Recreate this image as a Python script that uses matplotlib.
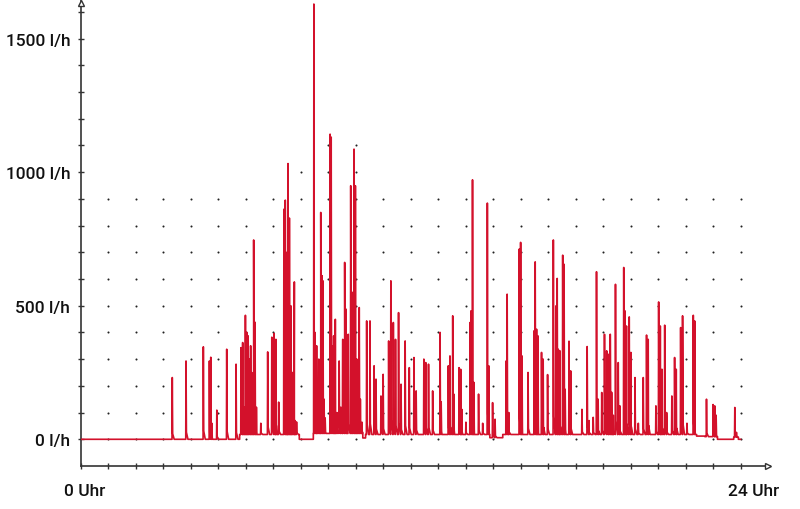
import numpy as np
import matplotlib
matplotlib.use('Agg')
import matplotlib.pyplot as plt
from matplotlib.transforms import ScaledTranslation

# flow peaks (hour of day, l/h)
spike_hours = [
    3.33, 3.83, 4.46, 4.68, 4.73, 4.77, 4.95,
    5.31, 5.65, 5.83, 5.89, 5.94, 5.99, 6.04, 6.09, 6.13, 6.18,
    6.22, 6.29, 6.34, 6.39, 6.55, 6.80, 6.95, 7.03, 7.07, 7.10, 7.20,
    7.39, 7.44, 7.47, 7.50, 7.54, 7.59, 7.62, 7.65, 7.70, 7.73, 7.77, 7.85,
    8.48, 8.52, 8.58, 8.62, 8.66, 8.73, 8.78, 8.81, 8.85, 8.89,
    9.07, 9.11, 9.15, 9.20, 9.26, 9.32, 9.40, 9.46, 9.53, 9.60, 9.65, 9.73,
    9.82, 9.86, 9.89, 9.94, 9.99, 10.04, 10.08, 10.13, 10.17, 10.23,
    10.40, 10.52, 10.67, 10.74, 10.92, 11.00, 11.20, 11.28, 11.37, 11.45,
    11.56, 11.65, 11.80, 11.95, 12.12, 12.20, 12.48, 12.55, 12.65, 12.80,
    13.07, 13.11, 13.37, 13.43, 13.53, 13.57, 13.76, 13.82, 13.86, 14.01,
    14.16, 14.20, 14.25, 14.30, 14.47, 14.62, 14.79, 14.84, 14.98, 15.07,
    15.47, 15.51, 15.57, 15.95, 16.00, 16.05, 16.27, 16.49, 16.53, 16.58,
    16.63, 16.76, 16.82, 16.98, 17.19, 17.28, 17.33, 17.37, 17.43, 17.53,
    17.58, 17.62, 17.76, 17.82, 18.23, 18.42, 18.49, 18.64, 18.76, 18.82,
    18.95, 19.05, 19.13, 19.19, 19.26, 19.31, 19.37, 19.45, 19.55, 19.61,
    19.75, 19.79, 19.85, 19.95, 20.01, 20.16, 20.28, 20.46, 20.58, 20.64,
    20.92, 21.02, 21.08, 21.14, 21.24, 21.31, 21.50, 21.60, 21.66, 21.82,
    21.89, 22.05, 22.28, 22.33, 22.76, 23.00, 23.06, 23.11, 23.79, 23.85,
]
spike_flow = [
    231, 293, 346, 293, 307, 60, 109,
    337, 281, 343, 362, 120, 464, 400, 387, 300, 350,
    250, 746, 438, 120, 60, 327, 382, 396, 200, 374, 139,
    861, 895, 600, 700, 1032, 828, 350, 499, 250, 150, 589, 65,
    1629, 400, 350, 200, 300, 849, 612, 593, 150, 80,
    1142, 1131, 350, 387, 449, 100, 293, 120, 374, 662, 487, 393,
    949, 400, 550, 1086, 949, 300, 200, 493, 150, 64,
    443, 443, 275, 225, 162, 243, 368, 593, 437, 374,
    474, 206, 368, 268, 306, 181, 300, 287, 281, 181,
    400, 140, 275, 312, 462, 169, 268, 262, 112, 64,
    437, 481, 971, 213, 169, 60, 884, 275, 137, 75,
    293, 543, 100, 712, 737, 312, 250, 406, 664, 412,
    387, 325, 300, 242, 746, 499, 602, 337, 331, 689,
    655, 187, 367, 256, 112, 347, 70, 82, 627, 150,
    175, 393, 331, 318, 393, 176, 90, 580, 287, 125,
    643, 481, 424, 458, 325, 231, 60, 231, 390, 374,
    125, 514, 424, 262, 427, 100, 162, 306, 262, 418,
    462, 60, 464, 443, 150, 130, 125, 90, 119, 26,
]

# background flow level between the peaks
base_hours = [0.0, 5.78, 7.95, 8.46, 10.26, 10.36, 14.88, 15.35, 22.40, 22.70, 23.16, 23.75, 23.92]
base_flow = [0, 18, 0, 22, 5, 18, 6, 18, 12, 10, 0, 8, 0]

grid_hours = list(range(1, 25))
grid_flow = list(range(0, 1000, 100))

line_color = '#d3112b'
axis_color = '#333333'


def base_at(h):
    return base_flow[np.searchsorted(base_hours, h, side='right') - 1]


# build the trace: background steps plus a narrow peak (with short decay) per reading
pts = [(0.0, 0.0)]
for i in range(1, len(base_hours)):
    pts.append((base_hours[i], base_flow[i - 1]))
    pts.append((base_hours[i], base_flow[i]))
for h, v in zip(spike_hours, spike_flow):
    b = base_at(h)
    pts += [(h - 0.01, base_at(h - 0.01)), (h, v), (h + 0.014, b + 0.09 * v),
            (h + 0.07, base_at(h + 0.07))]
pts.append((24.0, 0.0))
pts.sort(key=lambda p: p[0])
t = [p[0] for p in pts]
q = [p[1] for p in pts]

plt.rcParams['font.family'] = ['Roboto', 'DejaVu Sans']

fig = plt.figure(figsize=(8, 5.1), dpi=100)
ax = fig.add_axes([0.1009, 0.0843, 0.8616, 0.9157])
ax.set_xlim(0, 25.07)
ax.set_ylim(-100, 1648)

# dotted background grid
gx, gy = np.meshgrid(grid_hours, grid_flow)
ax.scatter(gx.ravel(), gy.ravel(), s=2.2, color='#222222', linewidths=0, zorder=1)
ax.scatter([8, 9, 9, 10, 10], [1000, 1000, 1100, 1000, 1100], s=2.2,
           color='#222222', linewidths=0, zorder=1)

ax.plot(t, q, color=line_color, lw=1.2, zorder=3)

for side in ['top', 'right']:
    ax.spines[side].set_visible(False)
for side in ['left', 'bottom']:
    ax.spines[side].set_color(axis_color)
    ax.spines[side].set_linewidth(1.2)
ax.plot([0], [1632], marker='^', ms=5, mfc='white', mec=axis_color, mew=1.0, clip_on=False, zorder=4)
ax.plot([24.98], [-100], marker='>', ms=5, mfc='white', mec=axis_color, mew=1.0, clip_on=False, zorder=4)

ax.set_yticks([0, 500, 1000, 1500])
ax.set_yticklabels(['0 l/h', '500 l/h', '1000 l/h', '1500 l/h'])
ax.set_yticks(range(0, 1700, 100), minor=True)
ax.set_xticks([0, 24])
ax.set_xticklabels(['0 Uhr', '24 Uhr'])
ax.set_xticks(range(0, 25), minor=True)

ax.tick_params(axis='y', which='both', direction='inout', length=5, width=1.0,
               color=axis_color, labelsize=12.5, labelcolor='#111111', pad=5)
ax.tick_params(axis='x', which='both', direction='inout', length=4, width=1.0,
               color=axis_color, labelsize=12.5, labelcolor='#111111', pad=10)
for lbl in ax.get_xticklabels() + ax.get_yticklabels():
    lbl.set_fontweight('medium')

for lbl, dx in zip(ax.get_xticklabels(), [4, 13]):
    lbl.set_transform(lbl.get_transform() + ScaledTranslation(dx / 100, 0, fig.dpi_scale_trans))

fig.savefig('out.png', dpi=100)
